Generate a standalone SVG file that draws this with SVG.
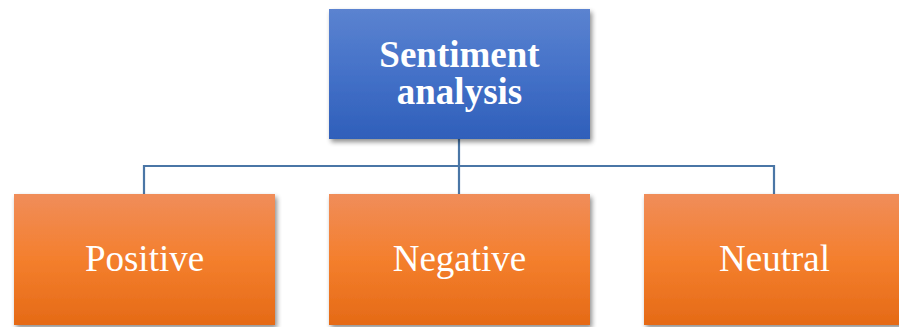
<svg xmlns="http://www.w3.org/2000/svg" width="899" height="327" viewBox="0 0 899 327">
<defs>
<linearGradient id="gb" x1="0" y1="0" x2="0" y2="1">
<stop offset="0" stop-color="#5b83d0"/>
<stop offset="0.5" stop-color="#4471c8"/>
<stop offset="1" stop-color="#2f5fba"/>
</linearGradient>
<linearGradient id="go" x1="0" y1="0" x2="0" y2="1">
<stop offset="0" stop-color="#f08d5a"/>
<stop offset="0.5" stop-color="#f47f2d"/>
<stop offset="1" stop-color="#e56a16"/>
</linearGradient>
<filter id="sh" x="-10%" y="-10%" width="125%" height="130%">
<feGaussianBlur in="SourceAlpha" stdDeviation="2.5"/>
<feOffset dx="2" dy="3"/>
<feComponentTransfer><feFuncA type="linear" slope="0.45"/></feComponentTransfer>
<feMerge><feMergeNode/><feMergeNode in="SourceGraphic"/></feMerge>
</filter>
</defs>
<style>
.conn{fill:none;stroke:#4a76a6;stroke-width:2.2}
.t{font-family:"Liberation Serif","Times New Roman",serif;fill:#ffffff;text-anchor:middle;font-size:37px}
.b{font-weight:bold}
</style>
<g id="connectors">
<path class="conn" d="M459 139 V166 M144 194 V166 H774 V194 M459 166 V194"/>
</g>
<g id="node-sentiment">
<rect x="329" y="9" width="261" height="130" fill="url(#gb)" filter="url(#sh)"/>
<text class="t b" x="459.5" y="67">Sentiment</text>
<text class="t b" x="459.5" y="104">analysis</text>
</g>
<g id="node-positive">
<rect x="14" y="194" width="261" height="131" fill="url(#go)" filter="url(#sh)"/>
<text class="t" x="144.5" y="271">Positive</text>
</g>
<g id="node-negative">
<rect x="329" y="194" width="261" height="131" fill="url(#go)" filter="url(#sh)"/>
<text class="t" x="459.5" y="271">Negative</text>
</g>
<g id="node-neutral">
<rect x="644" y="194" width="261" height="131" fill="url(#go)" filter="url(#sh)"/>
<text class="t" x="774.5" y="271">Neutral</text>
</g>
</svg>
